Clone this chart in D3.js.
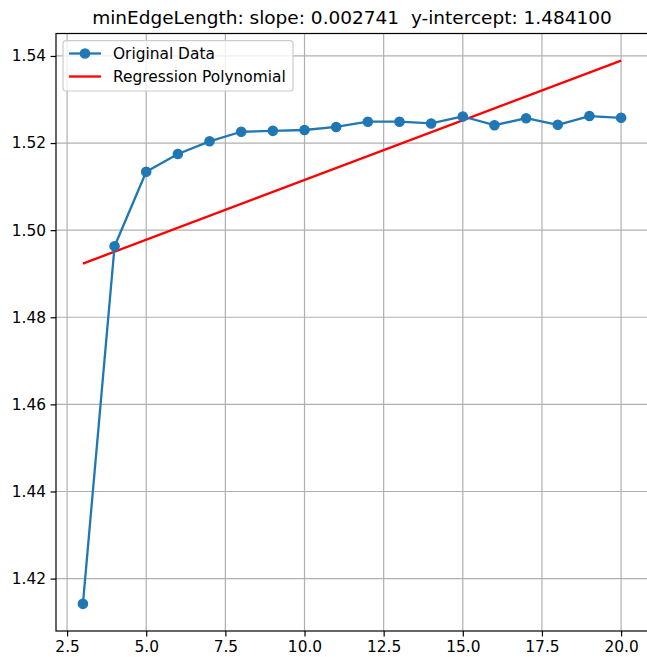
<!DOCTYPE html>
<html>
<head>
<meta charset="utf-8">
<script src="https://cdn.jsdelivr.net/npm/d3@7"></script>
<style>
  html, body { margin: 0; padding: 0; background: #fff; }
  svg { display: block; }
  text { font-family: "DejaVu Sans", sans-serif; fill: #000; white-space: pre; }
</style>
</head>
<body>
<script>
// ---- data ----
const xValues = [3, 4, 5, 6, 7, 8, 9, 10, 11, 12, 13, 14, 15, 16, 17, 18, 19, 20];
const yValues = [1.4142, 1.4963, 1.5134, 1.5175, 1.5204, 1.5226, 1.5228, 1.5230, 1.5237, 1.5249,
                 1.5249, 1.5245, 1.5261, 1.5241, 1.5257, 1.5242, 1.5262, 1.5258];
const slope = 0.002741;
const intercept = 1.484100;
const regX = [3, 20];
const xTicks = [2.5, 5.0, 7.5, 10.0, 12.5, 15.0, 17.5, 20.0];
const yTicks = [1.42, 1.44, 1.46, 1.48, 1.50, 1.52, 1.54];
const titleText = "minEdgeLength: slope: 0.002741  y-intercept: 1.484100";
const legendLabels = ["Original Data", "Regression Polynomial"];

// ---- layout ----
const W = 647, H = 657;
const L = 56, R = 648, T = 33.5, B = 631;

const svg = d3.select("body").append("svg").attr("width", W).attr("height", H);

const regY = regX.map(x => intercept + slope * x);
const allY = yValues.concat(regY);
const yMin = d3.min(allY), yMax = d3.max(allY);
const yPad = (yMax - yMin) * 0.05;
const xMin = d3.min(xValues), xMax = d3.max(xValues);
const xPad = (xMax - xMin) * 0.05;

const x = d3.scaleLinear().domain([xMin - xPad, xMax + xPad]).range([L, R]);
const y = d3.scaleLinear().domain([yMin - yPad, yMax + yPad]).range([B, T]);

// grid
const grid = svg.append("g");
grid.selectAll("line.vx").data(xTicks).enter().append("line")
  .attr("x1", d => x(d)).attr("x2", d => x(d)).attr("y1", T).attr("y2", B)
  .attr("stroke", "#b0b0b0").attr("stroke-width", 1.2);
grid.selectAll("line.hy").data(yTicks).enter().append("line")
  .attr("x1", L).attr("x2", R).attr("y1", d => y(d)).attr("y2", d => y(d))
  .attr("stroke", "#b0b0b0").attr("stroke-width", 1.2);

// axes
const xAxis = d3.axisBottom(x).tickValues(xTicks).tickFormat(d3.format(".1f"))
  .tickSize(5.4).tickPadding(4.5);
const yAxis = d3.axisLeft(y).tickValues(yTicks).tickFormat(d3.format(".2f"))
  .tickSize(5.4).tickPadding(4.5);

const gx = svg.append("g").attr("transform", `translate(0,${B})`).call(xAxis);
const gy = svg.append("g").attr("transform", `translate(${L},0)`).call(yAxis);
[gx, gy].forEach(g => {
  g.select(".domain").remove();
  g.selectAll(".tick line").attr("stroke", "#000").attr("stroke-width", 1.2);
  g.selectAll(".tick text").style("font-family", "DejaVu Sans").style("font-size", "15.4px").attr("fill", "#000");
});

// regression line
svg.append("path")
  .datum(regX.map((d, i) => [d, regY[i]]))
  .attr("d", d3.line().x(d => x(d[0])).y(d => y(d[1])))
  .attr("fill", "none").attr("stroke", "#ff0000").attr("stroke-width", 2.3);

// data line
const pts = xValues.map((d, i) => [d, yValues[i]]);
svg.append("path")
  .datum(pts)
  .attr("d", d3.line().x(d => x(d[0])).y(d => y(d[1])))
  .attr("fill", "none").attr("stroke", "#1f77b4").attr("stroke-width", 2.3)
  .attr("stroke-linejoin", "round");
svg.selectAll("circle.pt").data(pts).enter().append("circle")
  .attr("cx", d => x(d[0])).attr("cy", d => y(d[1])).attr("r", 4.6)
  .attr("fill", "#1f77b4").attr("stroke", "#1f77b4").attr("stroke-width", 1.4);

// spines
svg.append("rect").attr("x", L).attr("y", T).attr("width", R - L).attr("height", B - T)
  .attr("fill", "none").attr("stroke", "#000").attr("stroke-width", 1.2);

// title
svg.append("text").attr("x", (L + R) / 2).attr("y", 24).attr("text-anchor", "middle")
  .attr("xml:space", "preserve")
  .style("font-size", "18.5px").text(titleText);

// legend
const lg = svg.append("g");
lg.append("rect").attr("x", 63).attr("y", 40.7).attr("width", 230).attr("height", 50.3)
  .attr("rx", 3).attr("ry", 3)
  .attr("fill", "#fff").attr("fill-opacity", 0.8).attr("stroke", "#cccccc").attr("stroke-width", 1.2);
const rows = [53.5, 76.5];
lg.append("line").attr("x1", 69).attr("x2", 101).attr("y1", rows[0]).attr("y2", rows[0])
  .attr("stroke", "#1f77b4").attr("stroke-width", 2.3);
lg.append("circle").attr("cx", 85).attr("cy", rows[0]).attr("r", 4.6)
  .attr("fill", "#1f77b4").attr("stroke", "#1f77b4").attr("stroke-width", 1.4);
lg.append("line").attr("x1", 69).attr("x2", 101).attr("y1", rows[1]).attr("y2", rows[1])
  .attr("stroke", "#ff0000").attr("stroke-width", 2.3);
legendLabels.forEach((t, i) => {
  lg.append("text").attr("x", 113).attr("y", rows[i]).attr("dy", "0.35em")
    .style("font-size", "15.4px").text(t);
});
</script>
</body>
</html>
